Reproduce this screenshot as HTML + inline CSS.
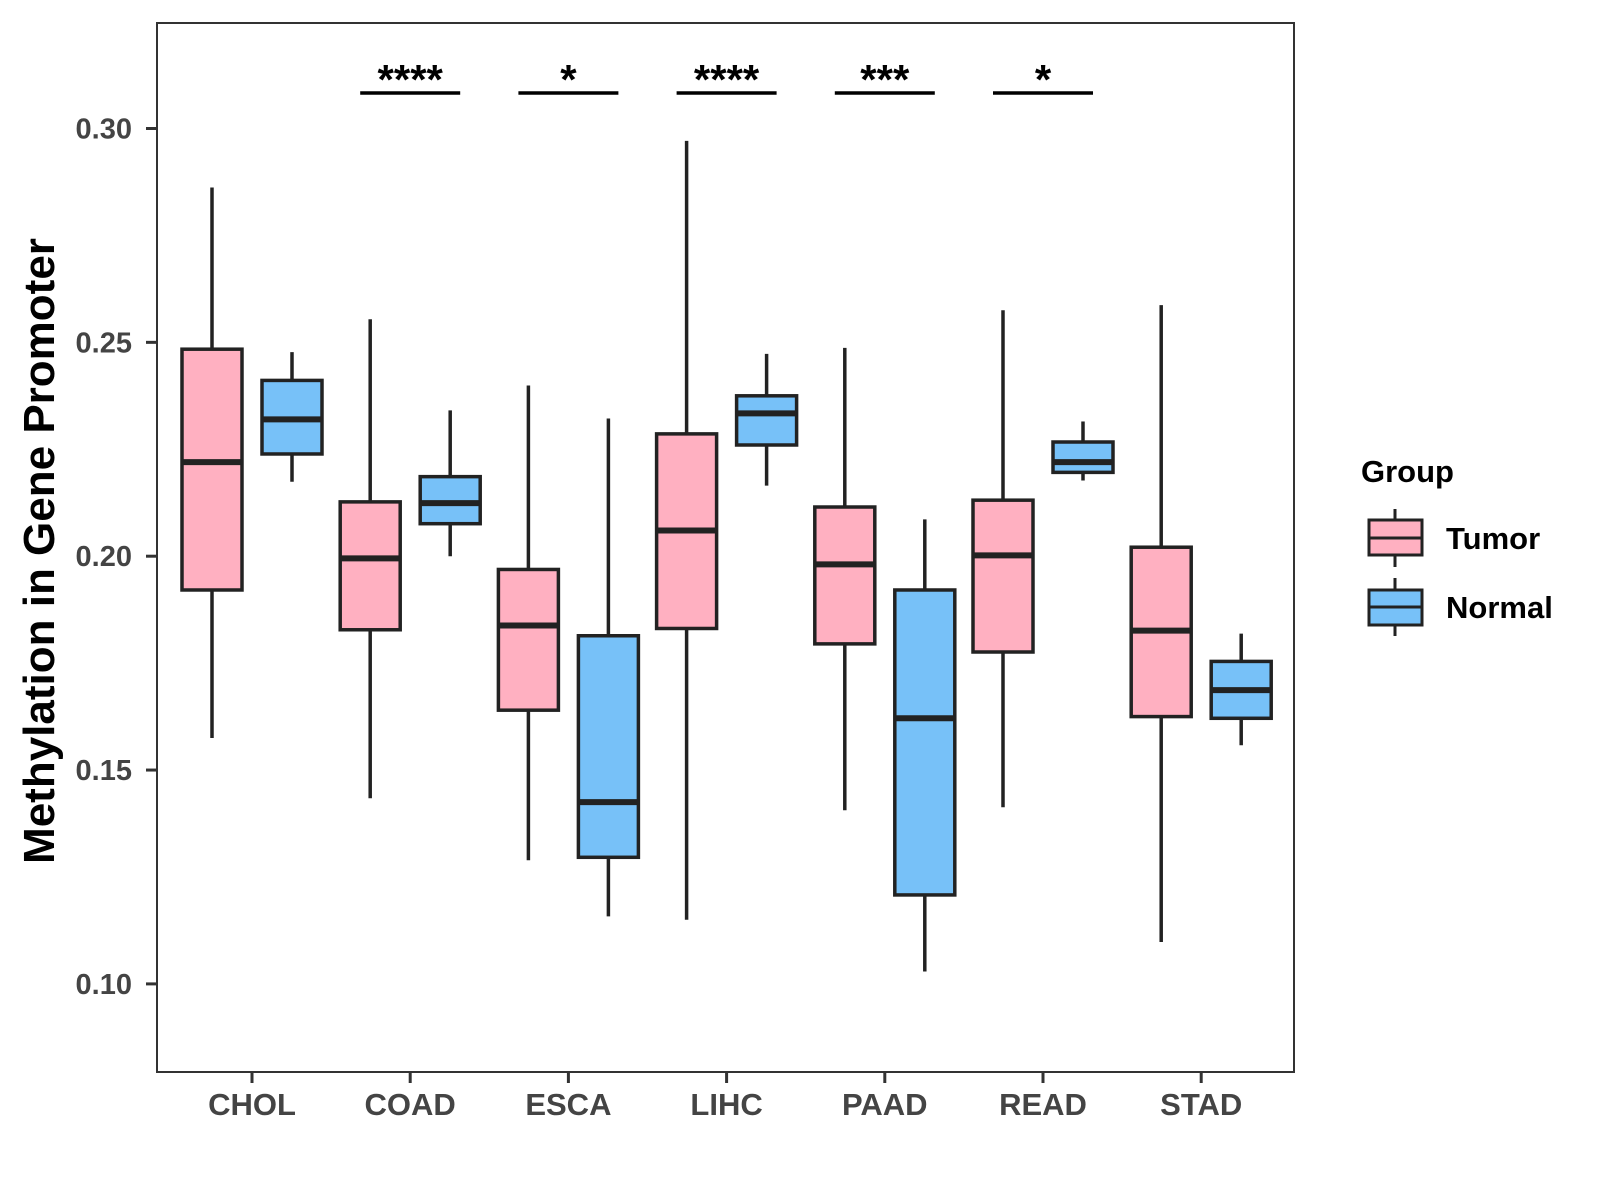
<!DOCTYPE html>
<html><head><meta charset="utf-8"><style>
html,body{margin:0;padding:0;background:#fff;}
svg{display:block;font-family:"Liberation Sans",Arial,sans-serif;font-weight:bold;}
</style></head><body>
<svg id="chart" width="1600" height="1200" viewBox="0 0 1600 1200" xmlns="http://www.w3.org/2000/svg">
<rect x="157" y="23" width="1137" height="1049" fill="#fff" stroke="#333" stroke-width="2"/>
<g id="marks"></g>
<text transform="translate(54,551) rotate(-90)" text-anchor="middle" font-size="44" fill="#000">Methylation in Gene Promoter</text>
<g transform="translate(-7,-2)">
<text x="1368" y="484" font-size="31" fill="#000">Group</text>
<g>
<line x1="1402" y1="511" x2="1402" y2="569" stroke="#222" stroke-width="3"/>
<rect x="1376" y="522" width="53" height="35" fill="#FFB0C1" stroke="#222" stroke-width="3"/>
<line x1="1376" y1="540" x2="1429" y2="540" stroke="#222" stroke-width="3"/>
<text x="1453" y="551" font-size="31" fill="#000">Tumor</text>
</g>
<g>
<line x1="1402" y1="580" x2="1402" y2="638" stroke="#222" stroke-width="3"/>
<rect x="1376" y="592" width="53" height="35" fill="#77C1F8" stroke="#222" stroke-width="3"/>
<line x1="1376" y1="609" x2="1429" y2="609" stroke="#222" stroke-width="3"/>
<text x="1453" y="620" font-size="31" fill="#000">Normal</text>
</g>
</g>
</svg>
<script>
const categories=["CHOL","COAD","ESCA","LIHC","PAAD","READ","STAD"];
// [low, q1, median, q3, high]
const tumorStats=[[0.1575,0.1921,0.2220,0.2484,0.2862],[0.1434,0.1828,0.1995,0.2127,0.2554],[0.1289,0.1640,0.1838,0.1969,0.2399],[0.1150,0.1831,0.2060,0.2286,0.2971],[0.1406,0.1795,0.1981,0.2115,0.2487],[0.1413,0.1776,0.2002,0.2131,0.2575],[0.1098,0.1625,0.1826,0.2021,0.2587]];
const normalStats=[[0.2174,0.2239,0.2320,0.2411,0.2477],[0.2000,0.2076,0.2124,0.2186,0.2341],[0.1158,0.1296,0.1425,0.1814,0.2322],[0.2165,0.2260,0.2334,0.2375,0.2473],[0.1029,0.1208,0.1621,0.1921,0.2086],[0.2177,0.2196,0.2220,0.2267,0.2315],[0.1558,0.1621,0.1687,0.1754,0.1819]];
const sigLabels=["","****","*","****","***","*",""];
const yTicks=[0.10,0.15,0.20,0.25,0.30];
const yTickLabels=["0.10","0.15","0.20","0.25","0.30"];

const NS="http://www.w3.org/2000/svg";
const g=document.getElementById('marks');
function y(v){return 128.5+(0.30-v)*4277;}
function x(i){return 252+i*158.2;}
function mk(tag,attrs){const e=document.createElementNS(NS,tag);for(const k in attrs)e.setAttribute(k,attrs[k]);g.appendChild(e);return e;}

yTicks.forEach((t,i)=>{
  const l=mk('line',{x1:146,x2:157,y1:y(t),y2:y(t),stroke:'#333','stroke-width':3});
  
  
  const tx=mk('text',{x:132,y:y(t)+10,'text-anchor':'end','font-size':29,fill:'#444'});
  tx.textContent=yTickLabels[i];
  
  
});
categories.forEach((c,i)=>{
  const l=mk('line',{x1:x(i),x2:x(i),y1:1072,y2:1083,stroke:'#333','stroke-width':3});
  
  
  const tx=mk('text',{x:x(i),y:1115,'text-anchor':'middle','font-size':31,fill:'#444'});
  tx.textContent=c;
  
  
});
function box(cx,s,fill,name){
  const w=mk('line',{x1:cx,x2:cx,y1:y(s[0]),y2:y(s[4]),stroke:'#222','stroke-width':3.5});
  
  
  const r=mk('rect',{x:cx-30,y:y(s[3]),width:60,height:y(s[1])-y(s[3]),fill:fill,stroke:'#222','stroke-width':3.5});
  
  
  const m=mk('line',{x1:cx-30,x2:cx+30,y1:y(s[2]),y2:y(s[2]),stroke:'#222','stroke-width':6});
  
  
}
categories.forEach((c,i)=>{
  box(x(i)-40,tumorStats[i],'#FFB0C1','box-'+c.toLowerCase()+'-tumor');
  box(x(i)+40,normalStats[i],'#77C1F8','box-'+c.toLowerCase()+'-normal');
  if(sigLabels[i]){
    const l=mk('line',{x1:x(i)-50,x2:x(i)+50,y1:93,y2:93,stroke:'#000','stroke-width':3.5});
    
    
    const t=mk('text',{x:x(i),y:94,'text-anchor':'middle','font-size':42,fill:'#000'});
    t.textContent=sigLabels[i];
    
    
  }
});
</script>
</body></html>
